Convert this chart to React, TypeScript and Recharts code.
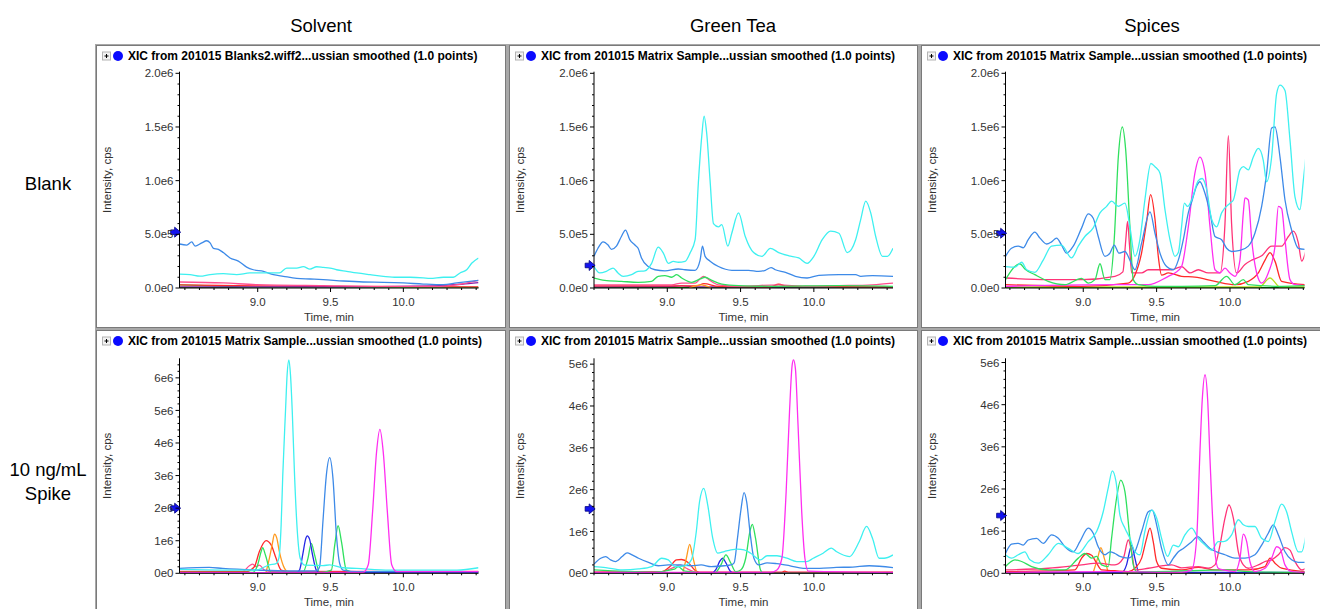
import React from "react";
import { LineChart, Line, XAxis, YAxis, ReferenceDot } from "recharts";

type Pt = [number, number];

// ---- labels ----
const COLUMN_TITLES = ["Solvent", "Green Tea", "Spices"];
const ROW_TITLES = [["Blank"], ["10 ng/mL", "Spike"]];
const PANEL_TITLES = [
  "XIC from 201015 Blanks2.wiff2...ussian smoothed (1.0 points)",
  "XIC from 201015 Matrix Sample...ussian smoothed (1.0 points)",
];

const X_TICKS = [8.5, 8.6, 8.7, 8.8, 8.9, 9.0, 9.1, 9.2, 9.3, 9.4, 9.5, 9.6, 9.7, 9.8, 9.9, 10.0, 10.1, 10.2, 10.3, 10.4, 10.5];
const X_MAJOR = [9.0, 9.5, 10.0];
const X_MAJOR_LABELS = ["9.0", "9.5", "10.0"];

const TOP_Y_TICKS = [0, 0.1, 0.2, 0.3, 0.4, 0.5, 0.6, 0.7, 0.8, 0.9, 1.0, 1.1, 1.2, 1.3, 1.4, 1.5, 1.6, 1.7, 1.8, 1.9, 2.0];
const TOP_Y_MAJOR = [0, 0.5, 1.0, 1.5, 2.0];
const TOP_Y_LABELS = ["0.0e0", "5.0e5", "1.0e6", "1.5e6", "2.0e6"];
const BOT_Y_TICKS = [0, 0.2, 0.4, 0.6, 0.8, 1, 1.2, 1.4, 1.6, 1.8, 2, 2.2, 2.4, 2.6, 2.8, 3, 3.2, 3.4, 3.6, 3.8, 4, 4.2, 4.4, 4.6, 4.8, 5, 5.2, 5.4, 5.6, 5.8, 6, 6.2, 6.4];
const BOT_Y_MAJOR = [0, 1, 2, 3, 4, 5, 6];
const BOT_Y_LABELS = ["0e0", "1e6", "2e6", "3e6", "4e6", "5e6", "6e6"];

// ---- intensities in 1e6 cps, [time min, value] ----
// Solvent / Blank
const sbBlue: Pt[] = [[8.463,0.41],[8.513,0.40],[8.547,0.43],[8.57,0.39],[8.616,0.42],[8.65,0.44],[8.673,0.42],[8.696,0.37],[8.73,0.36],[8.764,0.33],[8.81,0.28],[8.867,0.25],[8.924,0.195],[8.97,0.17],[9.04,0.155],[9.108,0.124],[9.176,0.109],[9.268,0.09],[9.36,0.084],[9.45,0.078],[9.588,0.065],[9.725,0.056],[9.863,0.053],[10.0,0.047],[10.137,0.037],[10.275,0.031],[10.366,0.047],[10.516,0.071]];
const sbCyan: Pt[] = [[8.463,0.13],[8.535,0.125],[8.604,0.11],[8.673,0.125],[8.764,0.133],[8.856,0.125],[8.947,0.14],[9.039,0.14],[9.149,0.14],[9.199,0.186],[9.268,0.186],[9.313,0.2],[9.359,0.176],[9.405,0.198],[9.451,0.192],[9.497,0.186],[9.542,0.17],[9.611,0.155],[9.68,0.14],[9.771,0.124],[9.863,0.109],[9.954,0.10],[10.046,0.10],[10.137,0.095],[10.183,0.09],[10.275,0.10],[10.343,0.10],[10.389,0.14],[10.435,0.17],[10.469,0.23],[10.516,0.28]];
const sbPink: Pt[] = [[8.463,0.056],[8.764,0.047],[8.99,0.031],[9.45,0.022],[9.9,0.016],[10.25,0.016],[10.37,0.031],[10.516,0.071]];
const sbRed: Pt[] = [[8.463,0.03],[9.0,0.02],[9.5,0.015],[10.0,0.012],[10.516,0.01]];
const sbPurple: Pt[] = [[8.463,0.01],[9.5,0.01],[10.2,0.02],[10.4,0.035],[10.516,0.05]];
const sbGreen: Pt[] = [[8.463,0.03],[8.8,0.015],[9.0,0.008],[10.516,0.005]];
const sbBase: Pt[] = [[8.463,0.003],[10.516,0.003]];

// Green Tea / Blank
const gbCyan: Pt[] = [[8.5,0.2],[8.539,0.14],[8.584,0.155],[8.63,0.186],[8.664,0.14],[8.699,0.109],[8.756,0.124],[8.8,0.155],[8.847,0.16],[8.893,0.23],[8.938,0.38],[8.973,0.325],[9.007,0.23],[9.041,0.248],[9.075,0.24],[9.121,0.248],[9.155,0.325],[9.19,0.45],[9.212,0.98],[9.235,1.41],[9.251,1.60],[9.269,1.44],[9.292,1.0],[9.315,0.6],[9.349,0.57],[9.372,0.59],[9.413,0.39],[9.44,0.51],[9.486,0.70],[9.532,0.48],[9.589,0.33],[9.646,0.295],[9.703,0.37],[9.76,0.33],[9.829,0.30],[9.897,0.28],[9.954,0.23],[10.0,0.295],[10.057,0.45],[10.114,0.53],[10.171,0.51],[10.228,0.33],[10.285,0.45],[10.32,0.64],[10.354,0.81],[10.388,0.70],[10.422,0.48],[10.468,0.295],[10.502,0.295],[10.54,0.37]];
const gbBlue: Pt[] = [[8.5,0.295],[8.527,0.37],[8.562,0.43],[8.596,0.40],[8.619,0.36],[8.653,0.39],[8.687,0.48],[8.715,0.54],[8.744,0.45],[8.779,0.40],[8.801,0.37],[8.824,0.28],[8.87,0.2],[8.916,0.17],[8.984,0.16],[9.075,0.177],[9.121,0.17],[9.19,0.165],[9.224,0.26],[9.24,0.39],[9.258,0.295],[9.292,0.25],[9.349,0.2],[9.441,0.165],[9.555,0.165],[9.623,0.155],[9.669,0.165],[9.708,0.19],[9.737,0.17],[9.806,0.146],[9.874,0.109],[9.954,0.093],[10.034,0.118],[10.171,0.124],[10.285,0.124],[10.32,0.109],[10.4,0.115],[10.54,0.109]];
const gbGreen: Pt[] = [[8.5,0.093],[8.573,0.071],[8.687,0.062],[8.801,0.053],[8.893,0.062],[8.938,0.109],[8.984,0.115],[9.03,0.10],[9.064,0.124],[9.098,0.093],[9.167,0.053],[9.224,0.084],[9.258,0.10],[9.304,0.071],[9.372,0.037],[9.486,0.022],[9.715,0.016],[10.171,0.022],[10.54,0.016]];
const gbPink: Pt[] = [[8.5,0.03],[9.03,0.03],[9.098,0.046],[9.19,0.046],[9.247,0.109],[9.281,0.08],[9.349,0.03],[9.486,0.016],[9.76,0.03],[9.94,0.016],[10.171,0.022],[10.4,0.03],[10.54,0.046]];
const gbRed: Pt[] = [[8.5,0.02],[9.2,0.02],[9.25,0.04],[9.35,0.015],[9.7,0.01],[9.76,0.035],[9.82,0.015],[10.54,0.01]];
const gbOrange: Pt[] = [[9.15,0.0],[9.23,0.03],[9.3,0.0]];
const gbPurple: Pt[] = [[8.5,0.01],[9.0,0.012],[9.1,0.02],[9.2,0.01],[10.54,0.01]];
const gbBase: Pt[] = [[8.5,0.003],[10.54,0.003]];

// Spices / Blank
const pbBlue: Pt[] = [[8.47,0.295],[8.511,0.37],[8.557,0.39],[8.591,0.375],[8.625,0.45],[8.67,0.52],[8.705,0.465],[8.75,0.41],[8.784,0.43],[8.818,0.465],[8.852,0.40],[8.886,0.325],[8.932,0.39],[8.989,0.56],[9.034,0.69],[9.068,0.65],[9.102,0.48],[9.148,0.295],[9.182,0.325],[9.211,0.40],[9.243,0.325],[9.284,0.34],[9.318,0.26],[9.352,0.17],[9.398,0.42],[9.455,0.71],[9.489,0.51],[9.523,0.325],[9.568,0.2],[9.614,0.17],[9.648,0.26],[9.682,0.45],[9.716,0.70],[9.743,0.82],[9.773,0.95],[9.795,0.99],[9.83,0.88],[9.864,0.70],[9.898,0.48],[9.943,0.45],[9.977,0.37],[10.011,0.34],[10.068,0.35],[10.125,0.39],[10.17,0.51],[10.216,0.76],[10.25,1.07],[10.284,1.49],[10.307,1.50],[10.341,1.22],[10.375,0.82],[10.42,0.54],[10.466,0.37],[10.511,0.36]];
const pbCyan: Pt[] = [[8.47,0.2],[8.534,0.195],[8.58,0.24],[8.614,0.17],[8.67,0.146],[8.727,0.26],[8.784,0.39],[8.852,0.40],[8.92,0.28],[8.966,0.39],[9.011,0.48],[9.068,0.56],[9.114,0.70],[9.159,0.76],[9.193,0.81],[9.239,0.76],[9.284,0.79],[9.318,0.57],[9.352,0.295],[9.386,0.45],[9.42,0.82],[9.461,1.16],[9.489,1.13],[9.523,1.07],[9.557,0.73],[9.591,0.45],[9.625,0.295],[9.648,0.33],[9.67,0.57],[9.689,0.79],[9.711,0.76],[9.739,0.82],[9.784,1.0],[9.811,1.02],[9.841,0.92],[9.875,0.64],[9.909,0.57],[9.943,0.70],[10.0,0.79],[10.023,0.82],[10.068,1.10],[10.091,1.13],[10.125,1.10],[10.159,1.22],[10.193,1.30],[10.227,1.19],[10.25,0.99],[10.284,1.22],[10.318,1.81],[10.341,1.89],[10.375,1.84],[10.409,1.38],[10.443,0.85],[10.477,0.73],[10.5,1.0],[10.516,1.21]];
const pbGreen: Pt[] = [[8.47,0.078],[8.534,0.2],[8.568,0.226],[8.602,0.177],[8.67,0.124],[8.761,0.062],[8.875,0.031],[8.989,0.09],[9.034,0.046],[9.08,0.078],[9.114,0.226],[9.148,0.078],[9.182,0.078],[9.211,0.45],[9.239,1.22],[9.266,1.50],[9.289,1.29],[9.318,0.57],[9.341,0.078],[9.375,0.031],[9.489,0.016],[9.67,0.016],[9.898,0.022],[9.977,0.109],[10.034,0.031],[10.091,0.078],[10.125,0.031],[10.352,0.016],[10.516,0.022]];
const pbRed: Pt[] = [[8.47,0.031],[8.989,0.016],[9.307,0.046],[9.352,0.12],[9.398,0.33],[9.432,0.62],[9.459,0.87],[9.489,0.64],[9.511,0.3],[9.534,0.12],[9.58,0.14],[9.67,0.109],[9.761,0.102],[9.898,0.062],[10.034,0.031],[10.125,0.062],[10.193,0.14],[10.239,0.26],[10.273,0.33],[10.307,0.248],[10.352,0.062],[10.516,0.031]];
const pbCrimson: Pt[] = [[8.47,0.093],[8.761,0.078],[8.989,0.078],[9.216,0.109],[9.27,0.15],[9.29,0.45],[9.302,0.62],[9.315,0.4],[9.33,0.14],[9.398,0.14],[9.443,0.17],[9.489,0.17],[9.545,0.17],[9.602,0.17],[9.67,0.2],[9.727,0.14],[9.784,0.17],[9.852,0.14],[9.932,0.14],[9.966,0.6],[9.989,1.42],[10.011,0.6],[10.045,0.14],[10.102,0.22],[10.148,0.26],[10.216,0.3],[10.284,0.39],[10.352,0.39],[10.398,0.48],[10.432,0.53],[10.466,0.42],[10.489,0.25],[10.516,0.34]];
const pbMagenta: Pt[] = [[8.47,0.016],[9.216,0.031],[9.443,0.031],[9.58,0.109],[9.625,0.14],[9.67,0.2],[9.716,0.57],[9.761,1.07],[9.795,1.22],[9.83,1.07],[9.864,0.57],[9.898,0.17],[9.932,0.14],[9.966,0.186],[10.0,0.14],[10.034,0.109],[10.068,0.26],[10.091,0.70],[10.102,0.84],[10.125,0.82],[10.148,0.45],[10.182,0.14],[10.216,0.046],[10.261,0.14],[10.307,0.39],[10.33,0.76],[10.352,0.74],[10.375,0.45],[10.409,0.078],[10.443,0.031],[10.516,0.022]];
const pbLime: Pt[] = [[8.47,0.01],[10.2,0.01],[10.273,0.093],[10.34,0.01],[10.516,0.01]];
const pbBase: Pt[] = [[8.47,0.003],[10.516,0.003]];

// Solvent / 10 ng/mL spike
const ssCyan: Pt[] = [[8.463,0.12],[8.759,0.10],[8.989,0.10],[9.08,0.26],[9.126,0.3],[9.145,0.46],[9.161,1.5],[9.172,3.0],[9.191,5.0],[9.202,6.1],[9.214,6.55],[9.225,6.1],[9.237,5.0],[9.253,3.0],[9.269,1.5],[9.292,0.46],[9.322,0.25],[9.448,0.235],[9.494,0.26],[9.586,0.17],[9.678,0.15],[9.908,0.10],[10.138,0.10],[10.368,0.10],[10.516,0.17]];
const ssBlue: Pt[] = [[8.463,0.15],[8.667,0.18],[8.759,0.15],[8.989,0.10],[9.218,0.07],[9.402,0.07],[9.425,0.2],[9.448,1.6],[9.471,3.0],[9.494,3.55],[9.517,2.9],[9.54,1.2],[9.563,0.3],[9.586,0.1],[9.678,0.05],[10.516,0.05]];
const ssNavy: Pt[] = [[8.463,0.02],[9.264,0.02],[9.287,0.1],[9.31,0.6],[9.329,1.05],[9.34,1.15],[9.356,1.05],[9.375,0.6],[9.402,0.1],[9.425,0.02],[10.516,0.02]];
const ssGreen: Pt[] = [[8.463,0.03],[8.966,0.03],[9.0,0.26],[9.023,0.66],[9.034,0.79],[9.053,0.56],[9.092,0.03],[9.31,0.03],[9.345,0.46],[9.368,0.92],[9.391,0.56],[9.425,0.03],[9.506,0.1],[9.529,0.87],[9.552,1.46],[9.575,0.97],[9.609,0.1],[9.678,0.03],[10.516,0.03]];
const ssRed: Pt[] = [[8.463,0.05],[8.92,0.05],[8.977,0.2],[9.011,0.66],[9.057,1.0],[9.092,0.87],[9.126,0.46],[9.161,0.1],[9.218,0.05],[10.516,0.05]];
const ssPink: Pt[] = [[8.463,0.06],[8.897,0.06],[8.943,0.23],[8.966,0.28],[8.989,0.2],[9.011,0.25],[9.046,0.1],[9.08,0.06],[10.516,0.06]];
const ssOrange: Pt[] = [[9.057,0.03],[9.08,0.46],[9.099,0.87],[9.115,1.2],[9.131,1.08],[9.149,0.66],[9.184,0.15],[9.207,0.03]];
const ssMagenta: Pt[] = [[8.463,0.02],[9.724,0.03],[9.759,0.26],[9.789,1.9],[9.816,3.72],[9.839,4.42],[9.862,3.72],[9.89,1.9],[9.92,0.26],[9.954,0.05],[10.516,0.05]];
const ssBase: Pt[] = [[8.463,0.01],[10.516,0.01]];

// Green Tea / 10 ng/mL spike
const gsMagenta: Pt[] = [[8.5,0.02],[9.703,0.02],[9.748,0.08],[9.782,0.36],[9.811,1.95],[9.834,3.87],[9.852,4.98],[9.861,5.1],[9.874,4.9],[9.892,3.55],[9.917,1.48],[9.939,0.36],[9.962,0.05],[10.54,0.02]];
const gsCyan: Pt[] = [[8.5,0.16],[8.58,0.135],[8.692,0.08],[8.804,0.104],[8.894,0.16],[8.962,0.36],[9.007,0.32],[9.052,0.16],[9.119,0.18],[9.164,0.32],[9.198,1.0],[9.22,1.71],[9.249,2.03],[9.276,1.63],[9.31,0.84],[9.344,0.48],[9.389,0.52],[9.434,0.56],[9.479,0.58],[9.524,0.56],[9.569,0.48],[9.636,0.32],[9.681,0.42],[9.748,0.42],[9.816,0.36],[9.883,0.28],[9.951,0.28],[9.996,0.36],[10.063,0.48],[10.119,0.60],[10.153,0.52],[10.243,0.40],[10.31,0.76],[10.36,1.12],[10.4,0.84],[10.445,0.36],[10.479,0.36],[10.54,0.44]];
const gsBlue: Pt[] = [[8.5,0.22],[8.546,0.36],[8.58,0.40],[8.613,0.32],[8.647,0.28],[8.692,0.40],[8.726,0.49],[8.76,0.44],[8.804,0.36],[8.872,0.26],[8.939,0.18],[9.007,0.2],[9.074,0.2],[9.164,0.18],[9.231,0.2],[9.299,0.16],[9.389,0.18],[9.434,0.2],[9.456,0.25],[9.479,0.84],[9.501,1.48],[9.524,1.93],[9.542,1.7],[9.564,1.0],[9.591,0.36],[9.625,0.2],[9.681,0.25],[9.748,0.23],[9.838,0.18],[9.928,0.12],[10.04,0.12],[10.153,0.14],[10.265,0.15],[10.378,0.18],[10.54,0.135]];
const gsNavy: Pt[] = [[8.5,0.0],[9.3,0.0],[9.33,0.08],[9.36,0.3],[9.378,0.36],[9.4,0.25],[9.43,0.05],[9.46,0.0],[10.54,0.0]];
const gsGreen: Pt[] = [[8.5,0.08],[8.9,0.03],[9.05,0.1],[9.074,0.16],[9.12,0.05],[9.321,0.0],[9.366,0.2],[9.4,0.44],[9.434,0.24],[9.467,0.04],[9.501,0.08],[9.535,0.36],[9.564,1.0],[9.58,1.17],[9.602,0.84],[9.636,0.08],[9.658,0.0],[10.54,0.0]];
const gsOrange: Pt[] = [[9.108,0.04],[9.13,0.36],[9.153,0.69],[9.171,0.44],[9.198,0.04]];
const gsRed: Pt[] = [[8.5,0.03],[8.962,0.04],[9.018,0.16],[9.063,0.32],[9.097,0.33],[9.142,0.26],[9.187,0.08],[9.22,0.02],[9.78,0.02],[9.8,0.05],[9.83,0.02],[10.54,0.03]];
const gsPink: Pt[] = [[8.5,0.02],[8.95,0.03],[9.05,0.15],[9.09,0.2],[9.13,0.12],[9.2,0.03],[10.54,0.02]];
const gsBase: Pt[] = [[8.5,0.01],[10.54,0.01]];

// Spices / 10 ng/mL spike
const psMagenta: Pt[] = [[8.47,0.02],[9.216,0.04],[9.67,0.02],[9.739,0.08],[9.773,0.83],[9.795,2.85],[9.811,4.11],[9.83,4.71],[9.848,4.11],[9.864,2.7],[9.891,0.75],[9.92,0.12],[9.955,0.08],[10.034,0.04],[10.068,0.36],[10.091,0.93],[10.114,0.75],[10.136,0.28],[10.17,0.04],[10.239,0.12],[10.284,0.36],[10.318,0.63],[10.341,0.59],[10.375,0.2],[10.42,0.04],[10.516,0.02]];
const psCyan: Pt[] = [[8.47,0.44],[8.511,0.36],[8.557,0.44],[8.602,0.51],[8.636,0.32],[8.693,0.24],[8.761,0.44],[8.83,0.71],[8.898,0.59],[8.966,0.47],[9.034,0.75],[9.091,0.99],[9.136,1.46],[9.17,2.02],[9.198,2.43],[9.223,2.18],[9.25,1.38],[9.284,1.07],[9.318,0.83],[9.352,0.51],[9.386,0.44],[9.42,0.99],[9.466,1.5],[9.5,1.31],[9.534,0.83],[9.575,0.4],[9.614,0.67],[9.648,0.63],[9.693,0.91],[9.739,1.07],[9.784,0.83],[9.83,0.67],[9.875,0.55],[9.92,0.75],[9.955,0.75],[10.011,0.91],[10.057,1.27],[10.091,1.15],[10.125,1.11],[10.17,1.11],[10.216,0.83],[10.261,0.75],[10.307,1.23],[10.352,1.64],[10.386,1.46],[10.42,0.99],[10.466,0.51],[10.489,0.51],[10.516,0.87]];
const psBlue: Pt[] = [[8.47,0.47],[8.511,0.69],[8.557,0.71],[8.591,0.67],[8.625,0.79],[8.682,0.83],[8.727,0.71],[8.784,0.91],[8.83,0.83],[8.875,0.63],[8.932,0.51],[8.977,0.75],[9.034,1.07],[9.068,0.95],[9.102,0.63],[9.148,0.44],[9.182,0.51],[9.216,0.47],[9.25,0.4],[9.307,0.36],[9.352,0.51],[9.398,0.99],[9.443,1.46],[9.47,1.5],[9.5,1.15],[9.534,0.59],[9.58,0.2],[9.614,0.36],[9.648,0.51],[9.682,0.59],[9.739,0.75],[9.78,0.87],[9.818,0.75],[9.864,0.59],[9.909,0.51],[9.966,0.44],[10.034,0.36],[10.102,0.36],[10.17,0.44],[10.216,0.67],[10.261,0.95],[10.295,1.15],[10.33,0.91],[10.375,0.51],[10.42,0.32],[10.466,0.26],[10.516,0.26]];
const psGreen: Pt[] = [[8.47,0.16],[8.534,0.32],[8.58,0.28],[8.648,0.16],[8.761,0.08],[8.875,0.08],[8.966,0.36],[9.011,0.47],[9.057,0.36],[9.091,0.4],[9.125,0.2],[9.17,0.16],[9.193,0.83],[9.227,1.78],[9.255,2.21],[9.284,1.94],[9.318,0.83],[9.341,0.2],[9.364,0.04],[9.489,0.04],[9.989,0.08],[10.125,0.04],[10.516,0.02]];
const psRed: Pt[] = [[8.47,0.04],[8.943,0.08],[8.989,0.36],[9.023,0.47],[9.057,0.43],[9.091,0.24],[9.125,0.08],[9.216,0.06],[9.307,0.04],[9.352,0.12],[9.398,0.36],[9.432,0.83],[9.455,1.07],[9.477,0.75],[9.5,0.28],[9.534,0.12],[9.67,0.08],[9.784,0.14],[9.898,0.08],[10.125,0.08],[10.239,0.16],[10.273,0.36],[10.307,0.24],[10.352,0.12],[10.516,0.04]];
const psCrimson: Pt[] = [[8.47,0.08],[8.761,0.12],[8.989,0.2],[9.102,0.24],[9.216,0.2],[9.273,0.36],[9.307,0.79],[9.33,0.51],[9.352,0.08],[9.443,0.12],[9.545,0.18],[9.602,0.2],[9.67,0.13],[9.784,0.16],[9.852,0.12],[9.898,0.2],[9.932,0.67],[9.966,1.31],[9.993,1.62],[10.023,1.31],[10.057,0.51],[10.091,0.2],[10.125,0.12],[10.193,0.2],[10.239,0.28],[10.284,0.32],[10.33,0.44],[10.375,0.61],[10.409,0.55],[10.443,0.28],[10.489,0.08],[10.516,0.12]];
const psNavy: Pt[] = [[8.47,0.02],[9.261,0.02],[9.295,0.2],[9.318,0.55],[9.33,0.67],[9.352,0.36],[9.38,0.02],[10.516,0.02]];
const psOrange: Pt[] = [[9.068,0.02],[9.098,0.36],[9.12,0.61],[9.143,0.36],[9.17,0.02]];
const psBase: Pt[] = [[8.47,0.01],[10.516,0.01]];

// blue arrow marker on y axis (1e6 cps)
const ARROWS = [0.52, 0.21, 0.51, 2.0, 1.54, 1.37];

const C = {
  cyan: "#3ef0f0",
  blue: "#3d8ae8",
  green: "#2fe05e",
  red: "#ff2a2a",
  crimson: "#ff3377",
  pink: "#ff4d8f",
  magenta: "#ff2ef0",
  orange: "#ff9a1f",
  navy: "#2626e6",
  lime: "#b8e020",
  purple: "#8a1aa8",
  dgreen: "#008a00",
};

// ---- layout ----
const COL_X = [96, 509, 921];
const COL_W = [410, 409, 402];
const AXIS_W = [83.5, 85, 84.5];
const PLOT_W = 299;
const ROW_Y = [45, 330];
const ROW_H = [283, 282];
const PLOT_TOP = [26.7, 28.3];
const PLOT_H = [216.3, 215];
const X_AXIS_H = 36;
const X_DOMAINS: [number, number][] = [[8.463, 10.516], [8.5, 10.54], [8.47, 10.508]];
const Y_MAX = [[2.015, 2.015, 2.015], [6.6, 5.14, 5.1]];
const FONT = '"Liberation Sans", Arial, sans-serif';

interface Trace { color: string; data: Pt[] }
interface PanelSpec { col: number; row: number; traces: Trace[] }

const PANELS: PanelSpec[] = [
  { col: 0, row: 0, traces: [
    { color: C.dgreen, data: sbBase }, { color: C.green, data: sbGreen }, { color: C.red, data: sbRed },
    { color: C.purple, data: sbPurple }, { color: C.pink, data: sbPink }, { color: C.blue, data: sbBlue }, { color: C.cyan, data: sbCyan },
  ] },
  { col: 1, row: 0, traces: [
    { color: C.dgreen, data: gbBase }, { color: C.purple, data: gbPurple }, { color: C.red, data: gbRed }, { color: C.orange, data: gbOrange },
    { color: C.pink, data: gbPink }, { color: C.green, data: gbGreen }, { color: C.blue, data: gbBlue }, { color: C.cyan, data: gbCyan },
  ] },
  { col: 2, row: 0, traces: [
    { color: C.dgreen, data: pbBase }, { color: C.lime, data: pbLime }, { color: C.crimson, data: pbCrimson }, { color: C.red, data: pbRed },
    { color: C.magenta, data: pbMagenta }, { color: C.green, data: pbGreen }, { color: C.blue, data: pbBlue }, { color: C.cyan, data: pbCyan },
  ] },
  { col: 0, row: 1, traces: [
    { color: C.dgreen, data: ssBase }, { color: C.pink, data: ssPink }, { color: C.red, data: ssRed }, { color: C.orange, data: ssOrange },
    { color: C.green, data: ssGreen }, { color: C.navy, data: ssNavy }, { color: C.blue, data: ssBlue }, { color: C.cyan, data: ssCyan },
    { color: C.magenta, data: ssMagenta },
  ] },
  { col: 1, row: 1, traces: [
    { color: C.dgreen, data: gsBase }, { color: C.pink, data: gsPink }, { color: C.red, data: gsRed }, { color: C.orange, data: gsOrange },
    { color: C.navy, data: gsNavy }, { color: C.green, data: gsGreen }, { color: C.blue, data: gsBlue }, { color: C.cyan, data: gsCyan },
    { color: C.magenta, data: gsMagenta },
  ] },
  { col: 2, row: 1, traces: [
    { color: C.dgreen, data: psBase }, { color: C.orange, data: psOrange }, { color: C.navy, data: psNavy }, { color: C.red, data: psRed },
    { color: C.crimson, data: psCrimson }, { color: C.green, data: psGreen }, { color: C.blue, data: psBlue }, { color: C.cyan, data: psCyan },
    { color: C.magenta, data: psMagenta },
  ] },
];

const near = (a: number, b: number) => Math.abs(a - b) < 1e-6;

const makeYTick = (majors: number[], labels: string[]) => (p: any) => {
  const v = p.payload.value;
  const i = majors.findIndex((m) => near(m, v));
  const len = i >= 0 ? 4 : 2;
  return (
    <g>
      <line x1={p.x - len} x2={p.x} y1={p.y} y2={p.y} stroke="#000" strokeWidth={1} />
      {i >= 0 && (
        <text x={p.x - 6} y={p.y} dy="0.36em" textAnchor="end" fontSize={11.5} fill="#333" fontFamily={FONT}>
          {labels[i]}
        </text>
      )}
    </g>
  );
};

const xTick = (p: any) => {
  const v = p.payload.value;
  const i = X_MAJOR.findIndex((m) => near(m, v));
  const len = i >= 0 ? 4 : 2;
  return (
    <g>
      <line x1={p.x} x2={p.x} y1={p.y} y2={p.y + len} stroke="#000" strokeWidth={1} />
      {i >= 0 && (
        <text x={p.x} y={p.y + 18} textAnchor="middle" fontSize={11.5} fill="#333" fontFamily={FONT}>
          {X_MAJOR_LABELS[i]}
        </text>
      )}
    </g>
  );
};

const arrowShape = (p: any) => {
  const x = p.cx;
  const y = p.cy;
  return (
    <path
      d={`M${x - 9},${y - 2.3} L${x - 5},${y - 2.3} L${x - 5},${y - 5} L${x + 1},${y} L${x - 5},${y + 5} L${x - 5},${y + 2.3} L${x - 9},${y + 2.3} Z`}
      fill="#1414f0"
      stroke="#000080"
      strokeWidth={0.8}
    />
  );
};

const Panel = ({ spec, index }: { spec: PanelSpec; index: number }) => {
  const { col, row, traces } = spec;
  const w = COL_W[col];
  const h = ROW_H[row];
  const axisW = AXIS_W[col];
  const mt = PLOT_TOP[row];
  const ph = PLOT_H[row];
  const mb = h - mt - ph - X_AXIS_H;
  const mr = w - axisW - PLOT_W;
  const xDomain = X_DOMAINS[col];
  const yMax = Y_MAX[row][col];
  const yTicks = (row === 0 ? TOP_Y_TICKS : BOT_Y_TICKS).filter((v) => v <= yMax);
  const yTick = row === 0 ? makeYTick(TOP_Y_MAJOR, TOP_Y_LABELS) : makeYTick(BOT_Y_MAJOR, BOT_Y_LABELS);
  const xTicks = X_TICKS.filter((v) => v >= xDomain[0] && v <= xDomain[1]);
  const title = col === 0 && row === 0 ? PANEL_TITLES[0] : PANEL_TITLES[1];

  return (
    <div
      style={{
        position: "absolute",
        left: COL_X[col],
        top: ROW_Y[row],
        width: w,
        height: h,
        boxSizing: "border-box",
        background: "#fff",
        border: "1px solid #7a7a7a",
      }}
    >
      <svg width={w} height={h} style={{ position: "absolute", left: -1, top: -1 }}>
        <rect x={6.5} y={7} width={8} height={8} fill="#f2f2f2" stroke="#b4b4b4" />
        <line x1={8.5} x2={12.5} y1={11} y2={11} stroke="#000" />
        <line x1={10.5} x2={10.5} y1={9} y2={13} stroke="#000" />
        <circle cx={22} cy={11} r={5} fill="#0a0aff" />
        <text x={32} y={15.3} fontSize={12} fontWeight="bold" fontFamily={FONT} fill="#000">
          {title}
        </text>
        <text
          x={11}
          y={mt + ph / 2}
          transform={`rotate(-90 11 ${mt + ph / 2})`}
          textAnchor="middle"
          dominantBaseline="central"
          fontSize={11.5}
          fill="#333"
          fontFamily={FONT}
        >
          Intensity, cps
        </text>
      </svg>
      <div style={{ position: "absolute", left: -1, top: -1 }}>
        <LineChart width={w} height={h} margin={{ top: mt, right: mr, bottom: mb, left: 0 }}>
          <XAxis
            type="number"
            dataKey="t"
            domain={xDomain}
            ticks={xTicks}
            interval={0}
            allowDataOverflow
            tickSize={0}
            tickMargin={0}
            tickLine={false}
            axisLine={{ stroke: "#000" }}
            tick={xTick}
            height={X_AXIS_H}
            label={{ value: "Time, min", position: "insideBottom", offset: 3, fill: "#333", fontSize: 11.5, fontFamily: FONT }}
          />
          <YAxis
            type="number"
            domain={[0, yMax]}
            ticks={yTicks}
            interval={0}
            allowDataOverflow
            width={axisW}
            tickSize={0}
            tickMargin={0}
            tickLine={false}
            axisLine={{ stroke: "#000" }}
            tick={yTick}
          />
          {traces.map((tr, i) => (
            <Line
              key={i}
              data={tr.data.map(([t, v]) => ({ t, v }))}
              dataKey="v"
              type="monotone"
              stroke={tr.color}
              strokeWidth={1.3}
              dot={false}
              activeDot={false}
              isAnimationActive={false}
            />
          ))}
          <ReferenceDot x={xDomain[0] + 0.001} y={ARROWS[index]} r={0} shape={arrowShape} />
        </LineChart>
      </div>
    </div>
  );
};

export default function App() {
  return (
    <div
      style={{
        position: "absolute",
        left: 0,
        top: 0,
        width: 1320,
        height: 609,
        overflow: "hidden",
        background: "#fff",
        fontFamily: FONT,
      }}
    >
      <svg width={1320} height={609} style={{ position: "absolute", left: 0, top: 0 }}>
        {COLUMN_TITLES.map((t, i) => (
          <text key={t} x={[321, 733, 1152][i]} y={32} textAnchor="middle" fontSize={18.5} fill="#000" fontFamily={FONT}>
            {t}
          </text>
        ))}
        {ROW_TITLES.map((lines, r) =>
          lines.map((l, j) => (
            <text
              key={l}
              x={48}
              y={(r === 0 ? 190 : 476) + j * 23.5}
              textAnchor="middle"
              fontSize={18.5}
              fill="#000"
              fontFamily={FONT}
            >
              {l}
            </text>
          ))
        )}
      </svg>
      <div style={{ position: "absolute", left: 95, top: 44, width: 1225, height: 565, background: "#a8a8a8" }} />
      {PANELS.map((p, i) => (
        <Panel key={i} spec={p} index={i} />
      ))}
    </div>
  );
}
